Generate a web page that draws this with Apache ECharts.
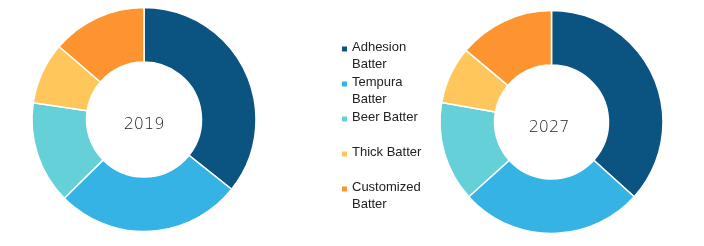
<!DOCTYPE html>
<html><head><meta charset="utf-8">
<script src="https://cdn.jsdelivr.net/npm/echarts@6/dist/echarts.min.js"></script>
<style>html,body{margin:0;padding:0;background:#fff}#c{width:704px;height:246px}</style>
</head><body><div id="c"></div>
<script>
const categories = ['Adhesion Batter','Tempura Batter','Beer Batter','Thick Batter','Customized Batter'];
const legendLabels = ['Adhesion\nBatter','Tempura\nBatter','Beer Batter\n ','Thick Batter\n ','Customized\nBatter'];
const colors = ['#0b5482','#36b3e5','#66d0d8','#ffc65c','#fd9430'];
const values2019 = [35.7, 26.9, 14.8, 8.9, 13.7];
const values2027 = [36.7, 26.6, 14.5, 8.3, 13.9];
const years = ['2019','2027'];

const chart = echarts.init(document.getElementById('c'), null, {renderer:'canvas'});
function mk(vals){ return categories.map((n,i)=>({name:n, value:vals[i], itemStyle:{color:colors[i]}})); }
const iconPath = 'path://M0,0H5V5H0Z M0,19L0.01,19';
const yearStyle = {fontSize:16, fontWeight:200, fill:'#222', fontFamily:'DejaVu Sans', textAlign:'center', textVerticalAlign:'middle'};
chart.setOption({
  animation:false,
  textStyle:{fontFamily:'Liberation Sans, Arial, sans-serif'},
  graphic:[
    {type:'text', x:144, y:124.5, silent:true, style:Object.assign({text:years[0]}, yearStyle)},
    {type:'text', x:549, y:127.5, silent:true, style:Object.assign({text:years[1]}, yearStyle)}
  ],
  legend:{
    orient:'vertical', left:337, top:34, itemWidth:5, itemHeight:19, itemGap:1,
    data: categories.map(n=>({name:n, icon:iconPath})),
    itemStyle:{borderWidth:0},
    formatter: n => legendLabels[categories.indexOf(n)],
    textStyle:{fontSize:13, lineHeight:17, color:'#222', fontFamily:'Liberation Sans'}
  },
  series:[
    {type:'pie', center:[144,119.5], radius:[57.5,112], startAngle:90, label:{show:false}, labelLine:{show:false},
     itemStyle:{borderColor:'#fff', borderWidth:1.5}, emphasis:{disabled:true}, data:mk(values2019)},
    {type:'pie', center:[551.5,122], radius:[57,111.5], startAngle:90, label:{show:false}, labelLine:{show:false},
     itemStyle:{borderColor:'#fff', borderWidth:1.5}, emphasis:{disabled:true}, data:mk(values2027)}
  ]
});
</script></body></html>
